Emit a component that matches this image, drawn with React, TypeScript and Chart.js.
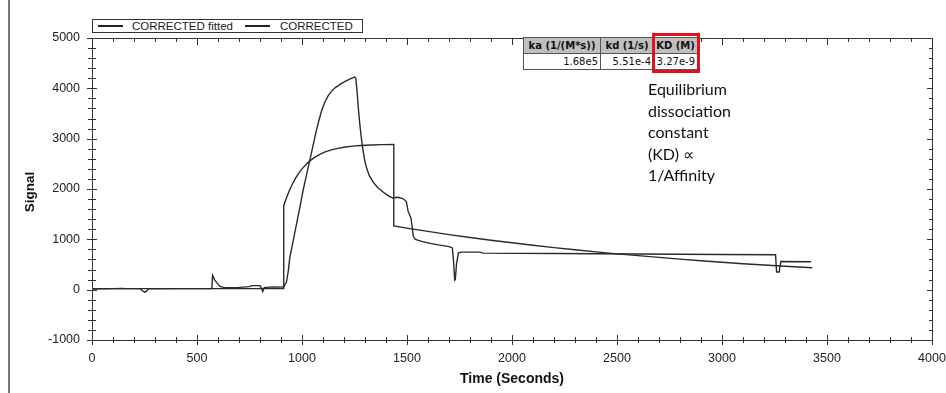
import React, { useEffect, useRef } from "react";
import { Chart, registerables } from "chart.js";

Chart.register(...registerables);

// ---- data ----
const fittedTime = [0, 913, 913, 925, 940, 955, 970, 985, 1000, 1020, 1040, 1060, 1085, 1110, 1140, 1170, 1200, 1240, 1280, 1330, 1380, 1437, 1437, 1520, 1600, 1700, 1800, 1900, 2000, 2100, 2200, 2300, 2400, 2500, 2600, 2700, 2800, 2900, 3000, 3100, 3200, 3300, 3430];
const fittedSignal = [20, 20, 1669, 1813, 1971, 2105, 2219, 2317, 2400, 2493, 2568, 2629, 2689, 2736, 2777, 2808, 2830, 2851, 2864, 2875, 2881, 2885, 1265, 1208, 1157, 1094, 1036, 982, 931, 882, 836, 793, 751, 712, 676, 641, 607, 575, 545, 515, 490, 465, 435];

const correctedTime = [0, 100, 147, 160, 228, 245, 252, 260, 268, 400, 571, 574, 585, 596, 610, 630, 700, 750, 760, 800, 808, 813, 820, 860, 905, 915, 926, 935, 942, 958, 974, 990, 1005, 1021, 1037, 1053, 1069, 1081, 1093, 1108, 1124, 1140, 1160, 1185, 1210, 1235, 1250, 1256, 1262, 1268, 1275, 1283, 1290, 1298, 1306, 1320, 1338, 1360, 1386, 1410, 1434, 1445, 1457, 1480, 1497, 1505, 1519, 1525, 1530, 1540, 1570, 1610, 1650, 1700, 1716, 1722, 1727, 1730, 1736, 1745, 1760, 1850, 1860, 2200, 2600, 3000, 3255, 3260, 3272, 3280, 3424];
const correctedSignal = [10, 20, 25, 20, 20, -35, -50, -30, 15, 20, 20, 285, 190, 130, 65, 40, 45, 60, 80, 80, 20, -35, 40, 55, 50, 70, 150, 380, 640, 970, 1305, 1640, 1970, 2270, 2570, 2870, 3170, 3370, 3550, 3720, 3850, 3940, 4020, 4090, 4150, 4200, 4225, 4200, 3950, 3620, 3300, 3000, 2780, 2580, 2440, 2270, 2140, 2030, 1940, 1870, 1815, 1830, 1835, 1810, 1750, 1560, 1420, 1230, 1060, 1000, 960, 920, 890, 855, 830, 550, 190, 200, 520, 730, 745, 745, 725, 720, 710, 700, 693, 350, 350, 560, 555];

const xTickValues = [0, 500, 1000, 1500, 2000, 2500, 3000, 3500, 4000];
const yTickValues = [-1000, 0, 1000, 2000, 3000, 4000, 5000];
const legendLabels = ["CORRECTED fitted", "CORRECTED"];
const tableHeaders = ["ka (1/(M*s))", "kd (1/s)", "KD (M)"];
const tableValues = ["1.68e5", "5.51e-4", "3.27e-9"];
const noteLines = ["Equilibrium", "dissociation", "constant", "(KD) \u221D", "1/Affinity"];
const xTitle = "Time (Seconds)";
const yTitle = "Signal";

const LINE = "#2a2a2a";
const AXIS = "#333333";

const framePlugin = {
  id: "frame",
  afterDatasetsDraw(chart: any) {
    const { ctx, chartArea: a, scales } = chart;
    const xs = scales.x;
    const ys = scales.y;
    ctx.save();
    ctx.strokeStyle = AXIS;
    ctx.lineWidth = 1;
    ctx.strokeRect(Math.round(a.left) + 0.5, Math.round(a.top) + 0.5, Math.round(a.right - a.left), Math.round(a.bottom - a.top));
    ctx.beginPath();
    // x ticks: minor every 100, major every 500
    for (let v = xs.min; v <= xs.max; v += 100) {
      const px = Math.round(xs.getPixelForValue(v)) + 0.5;
      const major = v % 500 === 0;
      ctx.moveTo(px, a.top);
      ctx.lineTo(px, a.top + (major ? 7 : 4));
      ctx.moveTo(px, a.bottom - (major ? 5 : 3));
      ctx.lineTo(px, a.bottom + (major ? 5 : 3));
    }
    // y ticks: minor every 200, major every 1000
    for (let v = ys.min; v <= ys.max; v += 200) {
      const py = Math.round(ys.getPixelForValue(v)) + 0.5;
      const major = v % 1000 === 0;
      ctx.moveTo(a.left - (major ? 5 : 4), py);
      ctx.lineTo(a.left + (major ? 5 : 4), py);
      ctx.moveTo(a.right, py);
      ctx.lineTo(a.right - (major ? 5 : 3), py);
    }
    ctx.stroke();

    // axis titles
    ctx.fillStyle = "#111";
    ctx.font = "bold 14px 'Liberation Sans', Arial, sans-serif";
    ctx.textAlign = "center";
    ctx.textBaseline = "middle";
    ctx.fillText(xTitle, (a.left + a.right) / 2, 379);
    ctx.save();
    ctx.translate(30, (a.top + a.bottom) / 2 + 3);
    ctx.rotate(-Math.PI / 2);
    ctx.font = "bold 13.5px 'Liberation Sans', Arial, sans-serif";
    ctx.fillText(yTitle, 0, 0);
    ctx.restore();
    ctx.restore();
  },
};

export default function App() {
  const canvasRef = useRef<HTMLCanvasElement | null>(null);

  useEffect(() => {
    if (!canvasRef.current) return;
    const chart = new Chart(canvasRef.current, {
      type: "line",
      data: {
        datasets: [
          {
            label: legendLabels[0],
            data: fittedTime.map((t, i) => ({ x: t, y: fittedSignal[i] })),
            borderColor: LINE,
            borderWidth: 1.4,
            pointRadius: 0,
            tension: 0,
            fill: false,
          },
          {
            label: legendLabels[1],
            data: correctedTime.map((t, i) => ({ x: t, y: correctedSignal[i] })),
            borderColor: LINE,
            borderWidth: 1.4,
            pointRadius: 0,
            tension: 0,
            fill: false,
          },
        ],
      },
      options: {
        animation: false,
        responsive: false,
        devicePixelRatio: 1,
        layout: { padding: { top: 38, right: 14, left: 0, bottom: 0 } },
        plugins: {
          legend: { display: false },
          tooltip: { enabled: false },
        },
        scales: {
          x: {
            type: "linear",
            min: 0,
            max: 4000,
            afterFit: (s: any) => {
              s.height = 53;
              s.paddingLeft = 0;
              s.paddingRight = 0;
            },
            afterBuildTicks: (s: any) => {
              s.ticks = xTickValues.map((v) => ({ value: v }));
            },
            grid: { display: false, drawTicks: false },
            border: { display: false },
            ticks: {
              padding: 11,
              color: "#222",
              font: { family: "'Liberation Sans', Arial, sans-serif", size: 12.5 },
              callback: (v: any) => String(v),
              maxRotation: 0,
              autoSkip: false,
            },
          },
          y: {
            type: "linear",
            min: -1000,
            max: 5000,
            afterFit: (s: any) => {
              s.width = 92;
              s.paddingTop = 0;
              s.paddingBottom = 0;
            },
            afterBuildTicks: (s: any) => {
              s.ticks = yTickValues.map((v) => ({ value: v }));
            },
            grid: { display: false, drawTicks: false },
            border: { display: false },
            ticks: {
              padding: 12,
              color: "#222",
              font: { family: "'Liberation Sans', Arial, sans-serif", size: 12.5 },
              callback: (v: any) => String(v),
              autoSkip: false,
            },
          },
        },
      },
      plugins: [framePlugin],
    });
    return () => chart.destroy();
  }, []);

  const legendText: React.CSSProperties = {
    fontFamily: "'Liberation Sans', Arial, sans-serif",
    fontSize: 11.5,
    color: "#222",
    whiteSpace: "nowrap",
  };
  const sample: React.CSSProperties = {
    display: "inline-block",
    width: 25,
    height: 1.3,
    background: "#222",
  };
  const cell: React.CSSProperties = {
    boxSizing: "border-box",
    border: "1px solid #555",
    padding: "0 2px",
    height: 16,
    lineHeight: "14px",
    fontFamily: "'DejaVu Sans', Verdana, sans-serif",
    fontSize: 10,
    whiteSpace: "nowrap",
    overflow: "hidden",
    color: "#111",
  };
  const colW = [77, 53, 44];

  return (
    <div style={{ position: "fixed", left: 0, top: 0, width: 946, height: 393, background: "#fff", overflow: "hidden" }}>
      <div style={{ position: "absolute", left: 8, top: 0, width: 1.5, height: 393, background: "#777" }} />
      <canvas ref={canvasRef} width={946} height={393} style={{ position: "absolute", left: 0, top: 0, width: 946, height: 393 }} />
      {/* legend */}
      <div
        style={{
          position: "absolute",
          left: 92,
          top: 19,
          width: 269,
          height: 12,
          border: "1px solid #333",
          background: "#fff",
          display: "flex",
          alignItems: "center",
        }}
      >
        <span style={{ ...sample, marginLeft: 5 }} />
        <span style={{ ...legendText, marginLeft: 9 }}>{legendLabels[0]}</span>
        <span style={{ ...sample, marginLeft: 12 }} />
        <span style={{ ...legendText, marginLeft: 10 }}>{legendLabels[1]}</span>
      </div>
      {/* parameter table */}
      <table
        style={{
          position: "absolute",
          left: 523,
          top: 37,
          width: colW[0] + colW[1] + colW[2],
          borderCollapse: "collapse",
          background: "#fff",
          tableLayout: "fixed",
        }}
      >
        <colgroup>
          {colW.map((w, i) => (
            <col key={i} style={{ width: w }} />
          ))}
        </colgroup>
        <tbody>
          <tr>
            {tableHeaders.map((h) => (
              <td key={h} style={{ ...cell, background: "#bfbfbf", fontWeight: "bold", textAlign: "center" }}>
                {h}
              </td>
            ))}
          </tr>
          <tr>
            {tableValues.map((v) => (
              <td key={v} style={{ ...cell, textAlign: "right" }}>
                {v}
              </td>
            ))}
          </tr>
        </tbody>
      </table>
      <div
        style={{
          position: "absolute",
          left: 652,
          top: 33,
          width: 42,
          height: 34,
          border: "3px solid #e3111b",
        }}
      />
      {/* annotation */}
      <div
        style={{
          position: "absolute",
          left: 648,
          top: 78,
          fontFamily: "Lato, 'Open Sans', sans-serif",
          fontSize: 16,
          lineHeight: "21.5px",
          color: "#111",
        }}
      >
        {noteLines.map((l) => (
          <div key={l}>{l}</div>
        ))}
      </div>
    </div>
  );
}
